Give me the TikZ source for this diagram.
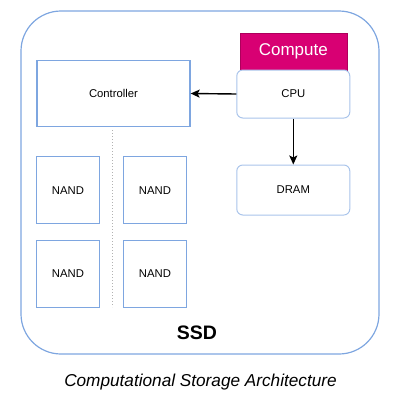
\documentclass[tikz,border=0pt]{standalone}
\usepackage{fontspec}
\setmainfont{Liberation Sans}
\usetikzlibrary{arrows.meta}
\definecolor{boxblue}{HTML}{7EA6E0}
\definecolor{lightblue}{HTML}{A9C4EB}
\definecolor{magenta}{HTML}{D80073}
\begin{document}
\begin{tikzpicture}[x=1pt,y=-1pt,
  blk/.style={draw=boxblue,line width=1.3pt,fill=white},
  soft/.style={draw=lightblue,line width=1pt,fill=white,rounded corners=6pt},
  lbl/.style={font=\fontsize{11.3}{13}\selectfont},
  arr/.style={line width=1.4pt,-{Stealth[length=9pt,width=8pt,inset=2pt]}}]
\useasboundingbox (0,0) rectangle (402,408);
\draw[draw=boxblue,line width=1.2pt,rounded corners=40pt] (21,11) rectangle (379,354);
\node[blk,minimum width=153pt,minimum height=66pt,inner sep=0,lbl] (ctrl) at (113.5,93.5) {Controller};
\node[fill=magenta,draw=magenta!80!black,line width=0.6pt,minimum width=107pt,minimum height=37pt,inner sep=0,text=white,font=\fontsize{17}{19}\selectfont] (comp) at (293.3,51.5) {Compute};
\node[soft,minimum width=113pt,minimum height=48pt,inner sep=0,lbl] (cpu) at (293.3,94) {CPU};
\node[soft,minimum width=113pt,minimum height=50pt,inner sep=0,lbl] (dram) at (293.3,190) {DRAM};
\node[blk,minimum width=62.5pt,minimum height=67pt,inner sep=0,lbl] (n1) at (68,190.2) {NAND};
\node[blk,minimum width=62.5pt,minimum height=67pt,inner sep=0,lbl] (n2) at (155,190.2) {NAND};
\node[blk,minimum width=62.5pt,minimum height=67pt,inner sep=0,lbl] (n3) at (68,273.7) {NAND};
\node[blk,minimum width=62.5pt,minimum height=67pt,inner sep=0,lbl] (n4) at (155,273.7) {NAND};
\coordinate (dtop) at (112,130);
\coordinate (dbot) at (112,307);
\draw[gray!60,line width=1pt,dotted] (dtop) -- (dbot);
\draw[arr] (cpu.west) -- (ctrl.east);
\draw[arr] (cpu.south) -- (dram.north);
\node[font=\bfseries\fontsize{19.5}{22}\selectfont] (ssd) at (197,333) {SSD};
\node[font=\itshape\fontsize{17.2}{20}\selectfont] (cap) at (200.5,382) {Computational Storage Architecture};
\end{tikzpicture}
\end{document}
